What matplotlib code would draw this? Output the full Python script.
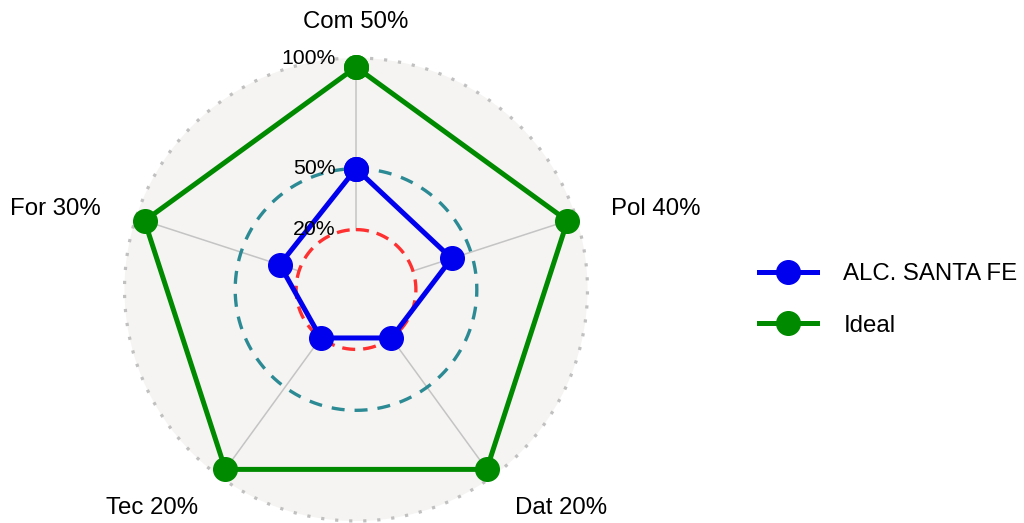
import numpy as np
import matplotlib
matplotlib.use("Agg")
import matplotlib.pyplot as plt
from matplotlib.transforms import offset_copy
from matplotlib.lines import Line2D

plt.rcParams['font.family'] = ['Liberation Sans', 'DejaVu Sans']

categories = ['Com', 'Pol', 'Dat', 'Tec', 'For']
category_pct = [50, 40, 20, 20, 30]
santa_fe = [50, 40, 20, 20, 30]
ideal = [100, 100, 100, 100, 100]
ring_values = [20, 50]
ring_labels = ['20%', '50%', '100%']
ring_label_values = [20, 50, 100]
series_names = ['ALC. SANTA FE', 'Ideal']

fig = plt.figure(figsize=(10.24, 5.23), dpi=100)
R = 231.5
cx, cy = 356, 523 - 289.5
ax = fig.add_axes([(cx - R) / 1024, (cy - R) / 523, 2 * R / 1024, 2 * R / 523], projection='polar')
ax.set_theta_offset(np.pi / 2)
ax.set_theta_direction(-1)
rmin, rmax = -9.5, 104.5
ax.set_ylim(rmin, rmax)
ax.set_facecolor('#f5f4f2')
ax.set_xticks([])
ax.set_yticks([])
ax.grid(False)
ax.spines['polar'].set_visible(False)

n = len(categories)
angles = np.linspace(0, 2 * np.pi, n, endpoint=False)

th = np.linspace(0, 2 * np.pi, 721)
# outer dotted frame
ax.plot(th, np.full_like(th, rmax), color='#c0c0c0', lw=2.3,
        dashes=(1, 3.4), clip_on=False, zorder=1)

# spokes
for a in angles:
    ax.plot([a, a], [20, 100], color='#c4c4c4', lw=1.1, zorder=1)

# rings
ax.plot(th, np.full_like(th, ring_values[1]), color='#2b8a94', lw=2.4,
        dashes=(3.9, 3.0), zorder=2)
ax.plot(th, np.full_like(th, ring_values[0]), color='#ff3030', lw=2.4,
        dashes=(3.9, 2.4), zorder=2)

ang_c = np.concatenate([angles, angles[:1]])
ideal_c = np.concatenate([ideal, ideal[:1]])
sf_c = np.concatenate([santa_fe, santa_fe[:1]])
ax.plot(ang_c, ideal_c, color='#008a00', lw=3.6, marker='o', markersize=17,
        zorder=3, clip_on=False)
ax.plot(ang_c, sf_c, color='#0000ee', lw=3.6, marker='o', markersize=17,
        zorder=4, clip_on=False)

# category labels, offset from the 100% point
offsets = [(0, 45), (88, 12), (74, -39), (-73, -39), (-89, 12)]
for a, c, p, (dx, dy) in zip(angles, categories, category_pct, offsets):
    tr = offset_copy(ax.transData, fig=fig, x=dx, y=dy, units='dots')
    ax.text(a, 100, f'{c} {p}%', transform=tr, ha='center', va='center',
            fontsize=17.3, clip_on=False)

# radial labels
label_dy = [0, 0, 9]
for v, lab, ddy in zip(ring_label_values, ring_labels, label_dy):
    tr = offset_copy(ax.transData, fig=fig, x=-20, y=ddy, units='dots')
    ax.text(0, v, lab, transform=tr, ha='right', va='center', fontsize=15.3,
            clip_on=False, zorder=6)

handles = [Line2D([], [], color='#0000ee', lw=3.6, marker='o', markersize=17),
           Line2D([], [], color='#008a00', lw=3.6, marker='o', markersize=17)]
fig.legend(handles, series_names, loc='center left',
           bbox_to_anchor=(737 / 1024, 1 - 300 / 523), frameon=False,
           fontsize=17.3, handlelength=2.45, handletextpad=1.08, labelspacing=1.22)

fig.savefig('out.png', dpi=100)
